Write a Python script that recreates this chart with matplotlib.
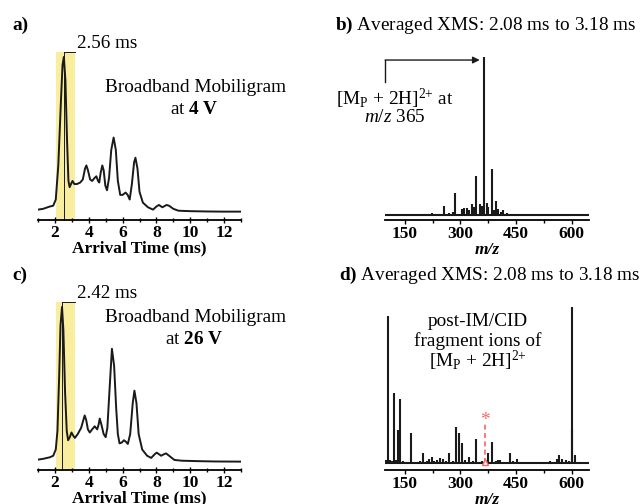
import matplotlib
matplotlib.use("Agg")
import matplotlib.pyplot as plt
from matplotlib.ticker import MultipleLocator

plt.rcParams['font.family'] = 'Liberation Serif'
plt.rcParams['mathtext.fontset'] = 'custom'
plt.rcParams['mathtext.rm'] = 'Liberation Serif'
plt.rcParams['mathtext.it'] = 'Liberation Serif:italic'
plt.rcParams['mathtext.bf'] = 'Liberation Serif:bold'

# mobiligram at 4 V (arrival time in ms, relative intensity)
t_4v = [1.0, 1.3, 1.7, 1.9, 2.05, 2.2, 2.35, 2.45, 2.53, 2.62, 2.72, 2.8, 2.87, 2.95,
        3.04, 3.15, 3.3, 3.5, 3.65, 3.78, 3.86, 3.95, 4.08, 4.2, 4.35, 4.45, 4.55,
        4.62, 4.7, 4.8, 4.88, 4.98, 5.08, 5.2, 5.33, 5.47, 5.6, 5.72, 5.86, 6.0,
        6.18, 6.3, 6.42, 6.55, 6.68, 6.76, 6.88, 7.0, 7.2, 7.5, 7.8, 8.0, 8.15,
        8.35, 8.6, 8.75, 9.0, 9.3, 10.0, 11.0, 12.0, 13.0]
i_4v = [1.5, 2, 3.5, 4, 8, 30, 70, 95, 100, 85, 45, 20, 16, 18,
        20, 18, 18, 19, 21, 28, 30, 27, 21, 20, 22, 23, 20,
        19, 25, 30, 27, 17, 14, 22, 40, 48, 40, 20, 11, 11,
        12.5, 11, 8, 18, 32, 35, 28, 13, 6, 3, 1.5, 3.5, 4.5,
        3, 4.5, 4, 2, 0.8, 0.5, 0.3, 0.2, 0.2]

# mobiligram at 26 V
t_26v = [1.0, 1.3, 1.7, 1.9, 2.05, 2.15, 2.25, 2.33, 2.42, 2.5, 2.6, 2.7, 2.78, 2.88,
         2.98, 3.08, 3.18, 3.35, 3.55, 3.68, 3.76, 3.85, 3.95, 4.06, 4.2, 4.35,
         4.5, 4.58, 4.65, 4.75, 4.88, 5.0, 5.1, 5.22, 5.37, 5.5, 5.62, 5.72, 5.82,
         5.95, 6.08, 6.2, 6.31, 6.45, 6.6, 6.7, 6.82, 6.95, 7.16, 7.45, 7.69, 7.9,
         8.02, 8.15, 8.28, 8.45, 8.57, 8.75, 9.06, 9.5, 10.5, 11.5, 13.0]
i_26v = [1.5, 2, 3, 4, 8, 20, 55, 88, 100, 85, 45, 20, 14, 16,
         19, 17, 15.5, 18, 22, 27, 30, 27, 21, 19, 21, 23,
         21, 24, 28, 24, 18, 16, 22, 45, 73, 62, 35, 18, 12,
         12.5, 14, 13, 11.6, 18, 38, 46, 38, 18, 8, 4, 2.6, 5,
         6, 5, 4, 5, 5.5, 4, 1.3, 0.8, 0.5, 0.3, 0.2]

# averaged XMS at 4 V (m/z, relative intensity)
mz_b = [130, 160, 190, 223, 240, 256.6, 270, 281, 286, 303.5, 309.7, 317, 324,
        330.5, 336.7, 342, 353, 359, 364.5, 371, 375, 384.4, 390, 396, 400.5,
        408, 415.6, 425, 440, 470, 510, 560, 620]
int_b = [0.4, 0.5, 0.4, 1.5, 0.6, 5.7, 1, 2, 14, 4, 4.6, 4.6, 3,
         7, 5, 25, 7, 6, 100, 7.4, 5, 29, 3, 9, 4,
         2, 3, 1, 0.6, 0.5, 0.4, 0.4, 0.4]

# post-IM/CID fragments at 26 V
mz_d = [100, 105.7, 110, 115, 121, 127, 132.6, 137, 145, 155, 168, 180, 190, 198,
        210, 216, 222.6, 230, 238, 245, 254, 262, 269, 280, 288, 295, 304, 312,
        324, 333, 342, 350, 358, 370, 375, 384.4, 395, 400, 407, 420, 433.7, 442,
        452, 465, 480, 495, 510, 525, 541.5, 550, 560, 566.6, 573, 585, 592,
        600, 601.7, 609, 620, 635]
int_d = [2, 94, 2, 1.5, 45, 2, 21, 41, 1.5, 1, 19.5, 1, 1.5, 6.4,
         1.5, 2.5, 4.2, 1.5, 2, 3.2, 2.5, 1.5, 6.4, 1.5, 23, 19.5, 13, 2,
         3.8, 1.5, 15.3, 1, 1.5, 1.5, 6.4, 13.8, 1.5, 2, 2, 1, 6.4, 1.5,
         3, 1, 1, 1, 1, 1, 1.7, 1, 2.5, 5, 2.5, 2, 1.5,
         100, 22, 5, 1, 0.8]

precursor_mz = 365
window = (2.08, 3.18)

band_color = '#f8ee9e'
ink = '#1a1a1a'
ion = r'[M$_\mathrm{P}$ + 2H]$^{2{+}}$'

fig = plt.figure(figsize=(6.41, 5.04), dpi=100)


def px(x, y):
    return x / 641, 1 - y / 504


def style_axis(ax):
    for s in ['top', 'left', 'right']:
        ax.spines[s].set_visible(False)
    ax.spines['bottom'].set_linewidth(1.3)
    ax.set_yticks([])
    for lab in ax.get_xticklabels():
        lab.set_fontweight('bold')


def mobiligram(ax, t, inten, apex, apex_label, volts, label_y):
    ax.axvspan(window[0], window[1], color=band_color, zorder=0, lw=0)
    ax.plot(t, inten, color=ink, lw=1.4, zorder=3)
    ax.set_xlim(1, 13)
    ax.set_ylim(-5.2, 103.2)
    ax.plot([apex, apex], [-5.2, 103.2], color=ink, lw=0.7, zorder=2, clip_on=False)
    ax.plot([apex, window[1]], [103.2, 103.2], color=ink, lw=0.7, clip_on=False)
    ax.text(window[1] + 0.1, 103.2, apex_label, fontsize=13.8, va='bottom',
            ha='left')
    ax.xaxis.set_major_locator(MultipleLocator(2))
    ax.xaxis.set_minor_locator(MultipleLocator(1))
    ax.tick_params(axis='x', which='major', direction='inout', length=5, width=1,
                   labelsize=12.5, pad=1)
    ax.tick_params(axis='x', which='minor', direction='inout', length=3, width=1)
    ax.set_xlabel('Arrival Time (ms)', fontsize=12.5, fontweight='bold', labelpad=0)
    style_axis(ax)
    fig.text(*px(196, label_y), 'Broadband Mobiligram', fontsize=13.9,
             ha='center', va='center')
    fig.text(*px(194, label_y + 22), r'at $\mathbf{' + volts + r'\ V}$',
             fontsize=13.9, ha='center', va='center')


def spectrum(ax, mz, inten, ylo, yhi):
    ax.vlines(mz, 0, inten, color=ink, lw=1.5)
    ax.axhline(0, color=ink, lw=1.5)
    ax.set_xlim(97, 647)
    ax.set_ylim(ylo, yhi)
    ax.set_xticks([150, 300, 450, 600])
    ax.set_xticks([225, 375, 525], minor=True)
    ax.tick_params(axis='x', which='major', direction='out', length=3, width=1,
                   labelsize=12.5, pad=1)
    ax.tick_params(axis='x', which='minor', direction='out', length=2, width=1)
    ax.set_xlabel('m/z', fontsize=12.5, fontweight='bold', fontstyle='italic',
                  labelpad=0)
    style_axis(ax)


# a) mobiligram at 4 V
ax_a = fig.add_axes([38 / 641, 1 - 220 / 504, 203 / 641, 168 / 504])
mobiligram(ax_a, t_4v, i_4v, 2.56, '2.56 ms', '4', 88)

# c) mobiligram at 26 V
ax_c = fig.add_axes([38 / 641, 1 - 470 / 504, 203 / 641, 168 / 504])
mobiligram(ax_c, t_26v, i_26v, 2.42, '2.42 ms', '26', 317)

# b) averaged XMS, precursor
ax_b = fig.add_axes([385 / 641, 1 - 220 / 504, 204.3 / 641, 165 / 504])
spectrum(ax_b, mz_b, int_b, -3.17, 101.5)
ax_b.annotate('', xy=(352, 98.3), xytext=(97.5, 98.3),
              arrowprops=dict(arrowstyle='-|>', color=ink, lw=1.0,
                              mutation_scale=10, shrinkA=0, shrinkB=0))
ax_b.plot([97.5, 97.5], [84.3, 98.3], color=ink, lw=1.0, clip_on=False)
fig.text(*px(395, 99), ion + ' at', fontsize=13.9, ha='center', va='center')
fig.text(*px(395, 118), r'$\mathit{m/z}$ ' + str(precursor_mz), fontsize=13.9,
         ha='center', va='center')

# d) averaged XMS, fragments
ax_d = fig.add_axes([385 / 641, 1 - 470 / 504, 204.3 / 641, 165 / 504])
spectrum(ax_d, mz_d, int_d, -4.28, 101)
ax_d.plot([precursor_mz, precursor_mz], [0.5, 26], color='#f06a6a', lw=1.2,
          ls=(0, (3, 2)))
ax_d.plot(precursor_mz, 0.8, marker='^', ms=5, mfc='white', mec='#f06a6a', mew=1)
ax_d.text(precursor_mz, 27, '*', color='#f06a6a', fontsize=14, ha='center',
          va='center')
for k, line in enumerate(['post-IM/CID', 'fragment ions of', ion]):
    fig.text(*px(478, 321 + 20 * k), line, fontsize=13.9, ha='center',
             va='center')

# panel captions
fig.text(*px(12, 25), 'a)', fontsize=13.9, fontweight='bold', va='center')
fig.text(*px(12, 275), 'c)', fontsize=13.9, fontweight='bold', va='center')
fig.text(*px(335, 25), r'$\mathbf{b)}$ Averaged XMS: 2.08 ms to 3.18 ms',
         fontsize=13.9, va='center')
fig.text(*px(339, 275), r'$\mathbf{d)}$ Averaged XMS: 2.08 ms to 3.18 ms',
         fontsize=13.9, va='center')

fig.savefig('out.png', dpi=100)
